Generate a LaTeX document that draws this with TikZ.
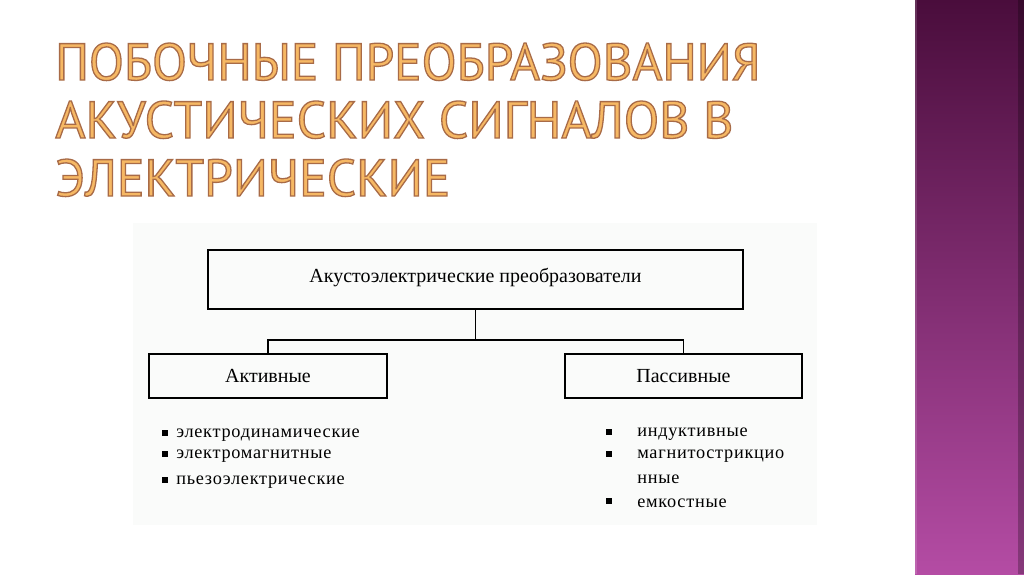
\documentclass[tikz,border=0pt]{standalone}
\usepackage{fontspec}
\setmainfont{Liberation Serif}
\newfontfamily\titlefont{PT Sans}
\newfontfamily\listfont[LetterSpace=4]{Liberation Serif}
\definecolor{titlefill}{HTML}{F6B864}
\definecolor{panel}{HTML}{FAFBFA}
\definecolor{barTop}{HTML}{4A0D3C}
\definecolor{barBot}{HTML}{B44CA4}
\newcommand{\titel}[4]{\node[anchor=base west,inner sep=0] (#1) at (55,#2) {\titlefont\color{titlefill}\special{pdf:literal direct 2 Tr 0.25 w 0.66 0.42 0.28 RG}\resizebox{#3cm}{0.925cm}{#4}\special{pdf:literal direct 0 Tr}};}
\newcommand{\kasten}[6]{\node[draw,line width=1pt,minimum width=#4cm,minimum height=#5cm,inner sep=0,font=\fontsize{14.2}{16}\selectfont] (#1) at (#2,#3) {#6};}
\newcommand{\punkt}[5]{\node[fill,inner sep=0,minimum size=4.8pt] (#1b) at (#2,#4-2) {};
  \node[anchor=west,inner sep=0,font=\listfont\fontsize{13}{15}\selectfont] (#1) at (#3,#4) {#5};}

\begin{document}
\begin{tikzpicture}[x=0.025cm,y=-0.025cm]
    \useasboundingbox (0,0) rectangle (1024,574);
    \fill[white] (0,0) rectangle (1024,574);
    \shade[top color=barTop,bottom color=barBot] (915,0) rectangle (1024,574);
    \fill[white,opacity=0.15] (915,0) rectangle (917,574);
    \fill[black,opacity=0.25] (1018,0) rectangle (1024,574);
    \titel{t1}{80}{17.625}{ПОБОЧНЫЕ ПРЕОБРАЗОВАНИЯ}
    \titel{t2}{138}{16.95}{АКУСТИЧЕСКИХ СИГНАЛОВ В}
    \titel{t3}{196}{9.875}{ЭЛЕКТРИЧЕСКИЕ}
    \fill[panel] (133,223) rectangle (817,525);
    \kasten{top}{475.5}{279.5}{13.375}{1.475}{\raisebox{6pt}{Акустоэлектрические преобразователи}}
    \kasten{akt}{268}{376}{5.95}{1.1}{Активные}
    \kasten{pas}{683.5}{376}{5.925}{1.1}{Пассивные}
    \coordinate (fork) at (475.5,340);
    \draw[line width=1pt] (top) -- (fork) -| (akt);
    \draw[line width=1pt] (fork) -| (pas);
    \punkt{a1}{165}{176}{435}{электродинамические}
    \punkt{a2}{165}{176}{456}{электромагнитные}
    \punkt{a3}{165}{176}{482}{пьезоэлектрические}
    \punkt{p1}{609}{637}{434}{индуктивные}
    \punkt{p2}{609}{637}{456}{магнитострикцио}
    \node[anchor=west,inner sep=0,font=\listfont\fontsize{13}{15}\selectfont] (p2b2) at (637,479) {нные};
    \punkt{p3}{609}{637}{503}{емкостные}
\end{tikzpicture}
\end{document}
